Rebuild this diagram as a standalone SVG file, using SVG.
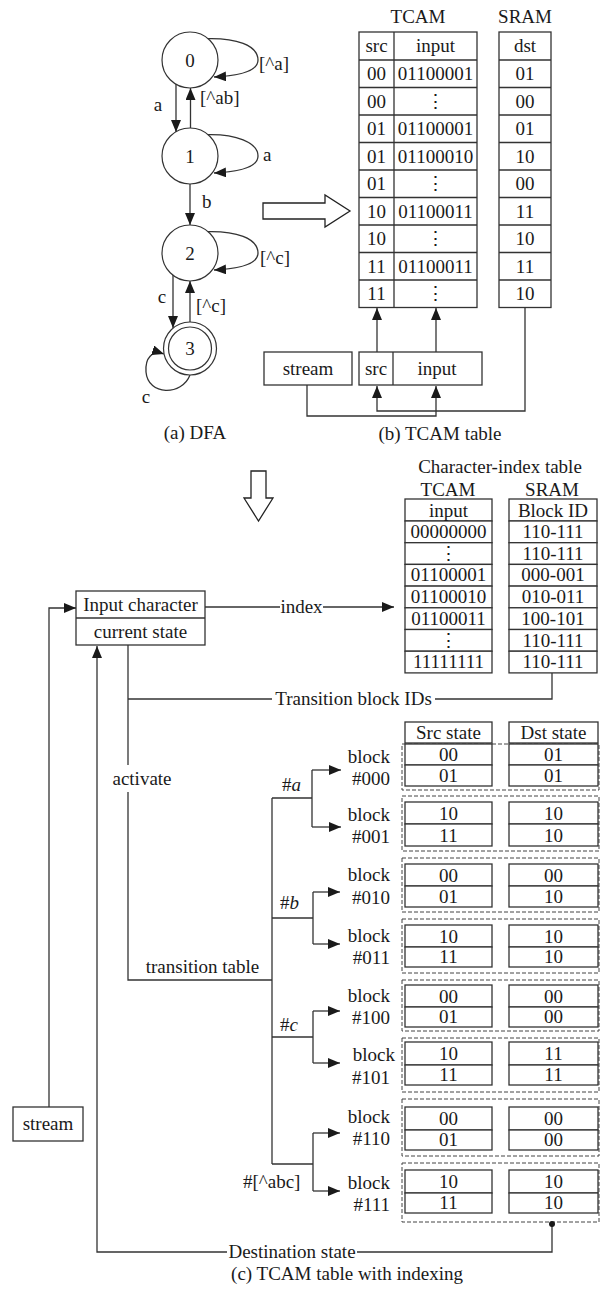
<svg xmlns="http://www.w3.org/2000/svg" width="600" height="1291" viewBox="0 0 600 1291">
<style>
text{font-family:"Liberation Serif","Times New Roman",serif;font-size:19px;fill:#1a1a1a}
.m{text-anchor:middle}
.e{text-anchor:end}
.ln{fill:none;stroke:#333;stroke-width:1.3}
.ar{fill:none;stroke:#333;stroke-width:1.3;marker-end:url(#ah)}
.bx{fill:#fff;stroke:#333;stroke-width:1.3}
.st{fill:#fff;stroke:#333;stroke-width:1.2}
.ds{fill:none;stroke:#444;stroke-width:1;stroke-dasharray:4,2}
.ho{fill:#fff;stroke:#222;stroke-width:1.3}
</style>
<defs>
<marker id="ah" viewBox="0 0 12 10" refX="12" refY="5" markerWidth="12" markerHeight="10" markerUnits="userSpaceOnUse" orient="auto">
<path d="M0,0 L12,5 L0,10 z" fill="#1a1a1a"/>
</marker>
</defs>

<!-- (a) DFA -->
<g id="connectors-dfa">
<path class="ar" d="M176,84 V132"/>
<path class="ar" d="M190.5,128 V88"/>
<path class="ar" d="M190,184 V225"/>
<path class="ar" d="M173,275 V328"/>
<path class="ar" d="M190,322 V281"/>
<path class="ar" d="M208,38.6 C235,38 258,45 258,60 C258,72 235,76 214,77"/>
<path class="ar" d="M208,134.6 C235,134 258,142 258,156 C258,168 235,172 214,173"/>
<path class="ar" d="M208,231.6 C235,231 258,238 258,253 C258,265 235,269 214,270"/>
<path class="ar" d="M190,375 C182,396 148,396 146,372 C145,358 152,350 164,354"/>
<text class="m" x="158" y="111">a</text>
<text x="200" y="104">[^ab]</text>
<text x="259" y="70">[^a]</text>
<text x="263" y="161">a</text>
<text x="202" y="208">b</text>
<text class="m" x="162" y="303">c</text>
<text x="196" y="312">[^c]</text>
<text x="260" y="264">[^c]</text>
<text class="m" x="146" y="403">c</text>
</g>
<g id="s0"><circle class="st" cx="190" cy="60" r="28"/><text class="m" x="190" y="66.5">0</text></g>
<g id="s1"><circle class="st" cx="190" cy="156" r="28"/><text class="m" x="190" y="162.5">1</text></g>
<g id="s2"><circle class="st" cx="190" cy="253" r="28"/><text class="m" x="190" y="259.5">2</text></g>
<g id="s3"><circle class="st" cx="190" cy="348.5" r="26.5"/><circle class="st" cx="190" cy="348.5" r="21.5"/><text class="m" x="190" y="355">3</text></g>
<text class="m" x="195" y="439">(a) DFA</text>

<!-- hollow arrows -->
<polygon class="ho" points="263,203 325,203 325,195 350,211 325,227 325,219 263,219"/>
<polygon class="ho" points="251,471 266,471 266,498 273,498 258.5,521 244,498 251,498"/>

<!-- (b) TCAM table -->
<g id="tcam-b">
<text class="m" x="418" y="23">TCAM</text>
<text class="m" x="525" y="23">SRAM</text>
<rect class="bx" x="359" y="32" width="118" height="275.5"/>
<rect class="bx" x="499" y="32" width="52" height="275.5"/>
<path class="ln" d="M394,32 V307.5 M359,60 H477 M359,87.5 H477 M359,115 H477 M359,142.5 H477 M359,170 H477 M359,197.5 H477 M359,225 H477 M359,252.5 H477 M359,280 H477 M499,60 H551 M499,87.5 H551 M499,115 H551 M499,142.5 H551 M499,170 H551 M499,197.5 H551 M499,225 H551 M499,252.5 H551 M499,280 H551"/>
<text class="m" x="376.5" y="52">src</text><text class="m" x="435.5" y="52">input</text><text class="m" x="525" y="52">dst</text>
<text class="m" x="376.5" y="80">00</text><text class="m" x="435.5" y="80">01100001</text><text class="m" x="525" y="80">01</text>
<text class="m" x="376.5" y="107.5">00</text><text class="m" x="435.5" y="107.5">⋮</text><text class="m" x="525" y="107.5">00</text>
<text class="m" x="376.5" y="135">01</text><text class="m" x="435.5" y="135">01100001</text><text class="m" x="525" y="135">01</text>
<text class="m" x="376.5" y="162.5">01</text><text class="m" x="435.5" y="162.5">01100010</text><text class="m" x="525" y="162.5">10</text>
<text class="m" x="376.5" y="190">01</text><text class="m" x="435.5" y="190">⋮</text><text class="m" x="525" y="190">00</text>
<text class="m" x="376.5" y="217.5">10</text><text class="m" x="435.5" y="217.5">01100011</text><text class="m" x="525" y="217.5">11</text>
<text class="m" x="376.5" y="245">10</text><text class="m" x="435.5" y="245">⋮</text><text class="m" x="525" y="245">10</text>
<text class="m" x="376.5" y="272.5">11</text><text class="m" x="435.5" y="272.5">01100011</text><text class="m" x="525" y="272.5">11</text>
<text class="m" x="376.5" y="300">11</text><text class="m" x="435.5" y="300">⋮</text><text class="m" x="525" y="300">10</text>
</g>
<g id="stream-b"><rect class="bx" x="264" y="352" width="88" height="33"/><text class="m" x="308" y="375">stream</text></g>
<g id="key-b"><rect class="bx" x="359" y="352" width="123" height="33"/><path class="ln" d="M393,352 V385"/><text class="m" x="376" y="375">src</text><text class="m" x="437" y="375">input</text></g>
<g id="connectors-b">
<path class="ar" d="M377,352 V308"/>
<path class="ar" d="M436,352 V308"/>
<path class="ar" d="M307,385 V416 H436 V386"/>
<path class="ar" d="M525,307.5 V411 H377 V386"/>
</g>
<text class="m" x="440" y="440">(b) TCAM table</text>

<!-- (c) -->
<g id="input-box"><rect class="bx" x="76" y="591" width="129" height="54"/><path class="ln" d="M76,618 H205"/><text class="m" x="140.5" y="611">Input character</text><text class="m" x="140.5" y="638">current state</text></g>
<g id="stream-c"><rect class="bx" x="13" y="1107" width="70" height="34"/><text class="m" x="48" y="1130">stream</text></g>

<g id="char-index">
<text class="m" x="500" y="473">Character-index table</text>
<text class="m" x="448" y="496">TCAM</text>
<text class="m" x="552" y="496">SRAM</text>
<rect class="bx" x="405" y="499" width="87" height="22"/><rect class="bx" x="509" y="499" width="88" height="22"/>
<rect class="bx" x="405" y="521" width="87" height="21.7"/><rect class="bx" x="509" y="521" width="88" height="21.7"/>
<rect class="bx" x="405" y="542.7" width="87" height="21.7"/><rect class="bx" x="509" y="542.7" width="88" height="21.7"/>
<rect class="bx" x="405" y="564.4" width="87" height="21.7"/><rect class="bx" x="509" y="564.4" width="88" height="21.7"/>
<rect class="bx" x="405" y="586.1" width="87" height="21.7"/><rect class="bx" x="509" y="586.1" width="88" height="21.7"/>
<rect class="bx" x="405" y="607.8" width="87" height="21.7"/><rect class="bx" x="509" y="607.8" width="88" height="21.7"/>
<rect class="bx" x="405" y="629.5" width="87" height="21.7"/><rect class="bx" x="509" y="629.5" width="88" height="21.7"/>
<rect class="bx" x="405" y="651.2" width="87" height="21.7"/><rect class="bx" x="509" y="651.2" width="88" height="21.7"/>
<text class="m" x="448.5" y="516.5">input</text><text class="m" x="553" y="516.5">Block ID</text>
<text class="m" x="448.5" y="538">00000000</text><text class="m" x="553" y="538">110-111</text>
<text class="m" x="448.5" y="559.7">⋮</text><text class="m" x="553" y="559.7">110-111</text>
<text class="m" x="448.5" y="581.4">01100001</text><text class="m" x="553" y="581.4">000-001</text>
<text class="m" x="448.5" y="603.1">01100010</text><text class="m" x="553" y="603.1">010-011</text>
<text class="m" x="448.5" y="624.8">01100011</text><text class="m" x="553" y="624.8">100-101</text>
<text class="m" x="448.5" y="646.5">⋮</text><text class="m" x="553" y="646.5">110-111</text>
<text class="m" x="448.5" y="668.2">11111111</text><text class="m" x="553" y="668.2">110-111</text>
</g>

<g id="headers">
<rect class="bx" x="405" y="722" width="87" height="21"/><text class="m" x="448.5" y="739">Src state</text>
<rect class="bx" x="509" y="722" width="89" height="21"/><text class="m" x="553.5" y="739">Dst state</text>
</g>

<g id="block000">
<rect class="ds" x="402" y="744" width="197" height="46"/>
<rect class="bx" x="405" y="744" width="87" height="21"/><rect class="bx" x="405" y="765" width="87" height="21"/>
<rect class="bx" x="509" y="744" width="89" height="21"/><rect class="bx" x="509" y="765" width="89" height="21"/>
<text class="m" x="448.5" y="761">00</text><text class="m" x="448.5" y="782">01</text>
<text class="m" x="553.5" y="761">01</text><text class="m" x="553.5" y="782">01</text>
<text class="e" x="390" y="763">block</text><text class="e" x="390" y="785">#000</text>
</g>
<g id="block001">
<rect class="ds" x="402" y="796" width="197" height="55"/>
<rect class="bx" x="405" y="802" width="87" height="22"/><rect class="bx" x="405" y="824" width="87" height="22"/>
<rect class="bx" x="509" y="802" width="89" height="22"/><rect class="bx" x="509" y="824" width="89" height="22"/>
<text class="m" x="448.5" y="819.5">10</text><text class="m" x="448.5" y="841.5">11</text>
<text class="m" x="553.5" y="819.5">10</text><text class="m" x="553.5" y="841.5">10</text>
<text class="e" x="390" y="821">block</text><text class="e" x="390" y="843">#001</text>
</g>
<g id="block010">
<rect class="ds" x="402" y="858" width="197" height="54"/>
<rect class="bx" x="405" y="864" width="87" height="22"/><rect class="bx" x="405" y="886" width="87" height="21"/>
<rect class="bx" x="509" y="864" width="89" height="22"/><rect class="bx" x="509" y="886" width="89" height="21"/>
<text class="m" x="448.5" y="881.5">00</text><text class="m" x="448.5" y="903">01</text>
<text class="m" x="553.5" y="881.5">00</text><text class="m" x="553.5" y="903">10</text>
<text class="e" x="390" y="881">block</text><text class="e" x="390" y="904">#010</text>
</g>
<g id="block011">
<rect class="ds" x="402" y="919" width="197" height="54"/>
<rect class="bx" x="405" y="925" width="87" height="22"/><rect class="bx" x="405" y="947" width="87" height="20"/>
<rect class="bx" x="509" y="925" width="89" height="22"/><rect class="bx" x="509" y="947" width="89" height="20"/>
<text class="m" x="448.5" y="942.5">10</text><text class="m" x="448.5" y="963">11</text>
<text class="m" x="553.5" y="942.5">10</text><text class="m" x="553.5" y="963">10</text>
<text class="e" x="390" y="942">block</text><text class="e" x="390" y="964">#011</text>
</g>
<g id="block100">
<rect class="ds" x="402" y="980" width="197" height="51"/>
<rect class="bx" x="405" y="985" width="87" height="22"/><rect class="bx" x="405" y="1007" width="87" height="20"/>
<rect class="bx" x="509" y="985" width="89" height="22"/><rect class="bx" x="509" y="1007" width="89" height="20"/>
<text class="m" x="448.5" y="1002.5">00</text><text class="m" x="448.5" y="1023">01</text>
<text class="m" x="553.5" y="1002.5">00</text><text class="m" x="553.5" y="1023">00</text>
<text class="e" x="390" y="1002">block</text><text class="e" x="390" y="1024">#100</text>
</g>
<g id="block101">
<rect class="ds" x="402" y="1038" width="197" height="54"/>
<rect class="bx" x="405" y="1042" width="87" height="23"/><rect class="bx" x="405" y="1065" width="87" height="20"/>
<rect class="bx" x="509" y="1042" width="89" height="23"/><rect class="bx" x="509" y="1065" width="89" height="20"/>
<text class="m" x="448.5" y="1060">10</text><text class="m" x="448.5" y="1081">11</text>
<text class="m" x="553.5" y="1060">11</text><text class="m" x="553.5" y="1081">11</text>
<text class="e" x="395" y="1061">block</text><text class="e" x="390" y="1084">#101</text>
</g>
<g id="block110">
<rect class="ds" x="402" y="1099" width="197" height="57"/>
<rect class="bx" x="405" y="1107" width="87" height="23"/><rect class="bx" x="405" y="1130" width="87" height="20"/>
<rect class="bx" x="509" y="1107" width="89" height="23"/><rect class="bx" x="509" y="1130" width="89" height="20"/>
<text class="m" x="448.5" y="1125">00</text><text class="m" x="448.5" y="1146">01</text>
<text class="m" x="553.5" y="1125">00</text><text class="m" x="553.5" y="1146">00</text>
<text class="e" x="390" y="1123">block</text><text class="e" x="390" y="1145">#110</text>
</g>
<g id="block111">
<rect class="ds" x="402" y="1163" width="197" height="59"/>
<rect class="bx" x="405" y="1170" width="87" height="23"/><rect class="bx" x="405" y="1193" width="87" height="20"/>
<rect class="bx" x="509" y="1170" width="89" height="23"/><rect class="bx" x="509" y="1193" width="89" height="20"/>
<text class="m" x="448.5" y="1188">10</text><text class="m" x="448.5" y="1209">11</text>
<text class="m" x="553.5" y="1188">10</text><text class="m" x="553.5" y="1209">10</text>
<text class="e" x="390" y="1189">block</text><text class="e" x="390" y="1211">#111</text>
</g>

<g id="connectors-c">
<path class="ar" d="M49,1107 V608 H76"/>
<path class="ar" d="M227,1252 H97 V646"/>
<path class="ln" d="M357,1252 H552 V1224"/>
<circle cx="552" cy="1224" r="3" fill="#1a1a1a"/>
<text class="m" x="292" y="1258">Destination state</text>
<path class="ln" d="M205,607 H280"/>
<text class="m" x="301.5" y="613">index</text>
<path class="ar" d="M323,607 H394"/>
<path class="ln" d="M128,699 H272"/>
<text class="m" x="353.5" y="705">Transition block IDs</text>
<path class="ln" d="M435,699 H552 V673"/>
<path class="ln" d="M128,645 V765"/>
<text class="m" x="142" y="785">activate</text>
<path class="ln" d="M128,792 V980 H272"/>
<text class="m" x="202.5" y="973">transition table</text>
<path class="ln" d="M272,798 V1164"/>
<path class="ln" d="M272,798 H312 M312,770 V827 M272,918 H313 M313,892 V944 M272,1037 H313 M313,1011 V1063 M272,1164 H313 M313,1133 V1191"/>
<path class="ar" d="M312,770 H341"/>
<path class="ar" d="M312,827 H341"/>
<path class="ar" d="M313,892 H340"/>
<path class="ar" d="M313,944 H340"/>
<path class="ar" d="M313,1011 H340"/>
<path class="ar" d="M313,1063 H340"/>
<path class="ar" d="M313,1133 H340"/>
<path class="ar" d="M313,1191 H340"/>
<text x="282" y="791">#<tspan font-style="italic">a</tspan></text>
<text x="280" y="909">#<tspan font-style="italic">b</tspan></text>
<text x="280" y="1031">#<tspan font-style="italic">c</tspan></text>
<text x="243" y="1188">#[^abc]</text>
</g>
<text class="m" x="347" y="1280">(c) TCAM table with indexing</text>
</svg>
